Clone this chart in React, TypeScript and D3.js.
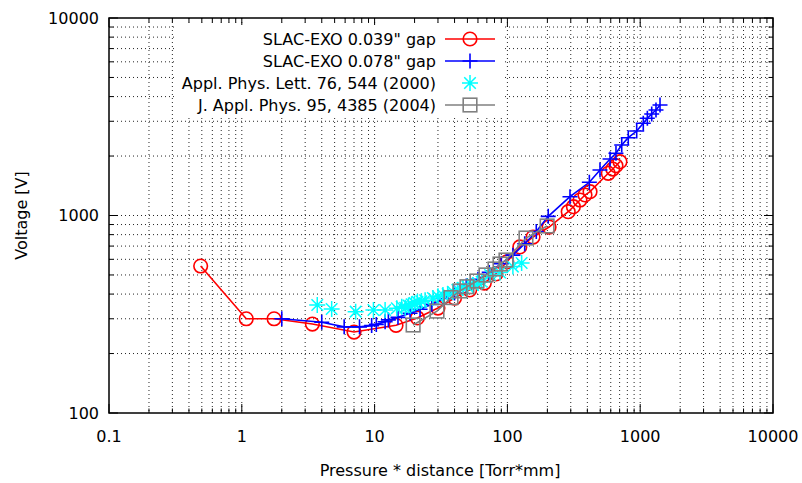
import React from "react";
import * as d3 from "d3";

const W = 802;
const H = 483;

const redX = [0.49, 1.08, 1.75, 3.4, 7.0, 14.5, 21, 30, 40, 52, 67, 82, 99, 124, 156, 206, 287, 314, 352, 384, 419, 575, 621, 657, 704];
const redY = [555, 300, 300, 282, 257, 278, 303, 340, 382, 420, 455, 506, 582, 693, 778, 874, 1045, 1108, 1198, 1270, 1320, 1636, 1719, 1787, 1873];

const blueX = [2.0, 4.0, 5.9, 7.7, 9.5, 10.3, 12.0, 12.7, 15, 18.5, 22, 27, 33, 40, 49, 60, 73, 90, 110, 135, 165, 203, 296, 414, 498, 593, 657, 726, 813, 941, 1055, 1132, 1221, 1315, 1410];
const blueY = [300, 288, 273, 273, 277, 281, 290, 296, 305, 320, 335, 355, 380, 405, 440, 475, 515, 570, 630, 720, 830, 990, 1245, 1473, 1700, 1932, 2065, 2275, 2477, 2678, 2930, 3106, 3266, 3422, 3626];

const cyanX = [3.7, 4.75, 7.2, 9.8, 12, 14.7, 16, 17, 18, 19, 20, 21, 22.5, 24, 27.5, 30, 32.7, 35.5, 38.9, 42, 46.3, 50, 55, 60, 64, 74, 88, 110, 128];
const cyanY = [352, 336, 326, 332, 332, 339, 345, 341, 350, 355, 360, 366, 368, 372, 382, 390, 396, 400, 411, 420, 430, 437, 445, 455, 462, 500, 515, 551, 575];

const grayX = [19.5, 29.5, 37.6, 44, 49.6, 59, 69, 80.7, 88, 97.6, 138, 199];
const grayY = [279, 328, 384, 415, 436, 466, 500, 536, 568, 595, 769, 885];

const xMajor = [0.1, 1, 10, 100, 1000, 10000];
const xMajorLabels = ["0.1", "1", "10", "100", "1000", "10000"];
const yMajor = [100, 1000, 10000];
const yMajorLabels = ["100", "1000", "10000"];

const legendLabels = [
  "SLAC-EXO 0.039\" gap",
  "SLAC-EXO 0.078\" gap",
  "Appl. Phys. Lett. 76, 544 (2000)",
  "J. Appl. Phys. 95, 4385 (2004)",
];

const RED = "#ff0000";
const BLUE = "#0000ff";
const CYAN = "#00ffff";
const GRAY = "#808080";
const FONT = "'DejaVu Sans', Verdana, sans-serif";
const FS = 16;

const L = 109, R = 773, T = 18, B = 413;

const x = d3.scaleLog().domain([0.1, 10000]).range([L, R]);
const y = d3.scaleLog().domain([100, 10000]).range([B, T]);

function minorTicks(dec0: number, dec1: number) {
  const out: number[] = [];
  for (let k = dec0; k < dec1; k++) {
    for (let m = 2; m <= 9; m++) out.push(m * Math.pow(10, k));
  }
  return out;
}
const xMinor = minorTicks(-1, 4);
const yMinor = minorTicks(2, 4);

function Circle({ cx, cy }: { cx: number; cy: number }) {
  return <circle cx={cx} cy={cy} r={6.8} fill="none" stroke={RED} strokeWidth={1.6} />;
}
function Plus({ cx, cy }: { cx: number; cy: number }) {
  const s = 7.5;
  return <path d={`M${cx - s},${cy}H${cx + s}M${cx},${cy - s}V${cy + s}`} stroke={BLUE} strokeWidth={1.6} fill="none" />;
}
function Star({ cx, cy }: { cx: number; cy: number }) {
  const s = 8;
  const d = s * 0.72;
  return (
    <path
      d={`M${cx - s},${cy}H${cx + s}M${cx},${cy - s}V${cy + s}M${cx - d},${cy - d}L${cx + d},${cy + d}M${cx - d},${cy + d}L${cx + d},${cy - d}`}
      stroke={CYAN}
      strokeWidth={1.5}
      fill="none"
    />
  );
}
function Square({ cx, cy }: { cx: number; cy: number }) {
  const s = 6.8;
  return <rect x={cx - s} y={cy - s} width={2 * s} height={2 * s} fill="none" stroke={GRAY} strokeWidth={1.6} />;
}

export default function App() {
  const line = d3
    .line<[number, number]>()
    .x((d) => x(d[0]))
    .y((d) => y(d[1]));
  const red = redX.map((v, i) => [v, redY[i]] as [number, number]);
  const blue = blueX.map((v, i) => [v, blueY[i]] as [number, number]);
  const cyan = cyanX.map((v, i) => [v, cyanY[i]] as [number, number]);
  const gray = grayX.map((v, i) => [v, grayY[i]] as [number, number]);

  const gridStyle = { stroke: "#000", strokeWidth: 1, strokeDasharray: "1,3", opacity: 0.85 };
  const legendRows = [39, 61, 83, 105];
  const lx0 = 445, lx1 = 495, lmx = 470, ltx = 436;

  return (
    <svg width={W} height={H} style={{ position: "absolute", left: 0, top: 0, background: "#fff" }}>
      <rect x={0} y={0} width={W} height={H} fill="#fff" />
      {/* grid */}
      <g>
        {[...xMinor, ...xMajor.slice(1, -1)].map((v, i) => (
          <line key={"gx" + i} x1={x(v)} x2={x(v)} y1={T} y2={B} {...gridStyle} />
        ))}
        {[...yMinor, ...yMajor.slice(1, -1)].map((v, i) => (
          <line key={"gy" + i} x1={L} x2={R} y1={y(v)} y2={y(v)} {...gridStyle} />
        ))}
      </g>
      {/* ticks */}
      <g stroke="#000" strokeWidth={1}>
        {xMajor.map((v, i) => (
          <g key={"xt" + i}>
            <line x1={x(v)} x2={x(v)} y1={B} y2={B - 9} />
            <line x1={x(v)} x2={x(v)} y1={T} y2={T + 9} />
          </g>
        ))}
        {xMinor.map((v, i) => (
          <g key={"xm" + i}>
            <line x1={x(v)} x2={x(v)} y1={B} y2={B - 4.5} />
            <line x1={x(v)} x2={x(v)} y1={T} y2={T + 4.5} />
          </g>
        ))}
        {yMajor.map((v, i) => (
          <g key={"yt" + i}>
            <line x1={L} x2={L + 9} y1={y(v)} y2={y(v)} />
            <line x1={R} x2={R - 9} y1={y(v)} y2={y(v)} />
          </g>
        ))}
        {yMinor.map((v, i) => (
          <g key={"ym" + i}>
            <line x1={L} x2={L + 4.5} y1={y(v)} y2={y(v)} />
            <line x1={R} x2={R - 4.5} y1={y(v)} y2={y(v)} />
          </g>
        ))}
      </g>
      {/* tick labels */}
      <g fontFamily={FONT} fontSize={FS} fill="#000">
        {xMajor.map((v, i) => (
          <text key={"xl" + i} x={x(v)} y={442} textAnchor="middle">
            {xMajorLabels[i]}
          </text>
        ))}
        {yMajor.map((v, i) => (
          <text key={"yl" + i} x={99} y={y(v)} textAnchor="end" dominantBaseline="central">
            {yMajorLabels[i]}
          </text>
        ))}
        <text x={440} y={476} textAnchor="middle">
          Pressure * distance [Torr*mm]
        </text>
        <text transform={`translate(27,${(T + B) / 2}) rotate(-90)`} textAnchor="middle">
          Voltage [V]
        </text>
      </g>
      {/* series */}
      <g>
        <path d={line(red) || ""} fill="none" stroke={RED} strokeWidth={1.6} />
        {red.map((d, i) => (
          <Circle key={"r" + i} cx={x(d[0])} cy={y(d[1])} />
        ))}
        <path d={line(blue) || ""} fill="none" stroke={BLUE} strokeWidth={1.6} />
        {blue.map((d, i) => (
          <Plus key={"b" + i} cx={x(d[0])} cy={y(d[1])} />
        ))}
        {cyan.map((d, i) => (
          <Star key={"c" + i} cx={x(d[0])} cy={y(d[1])} />
        ))}
        <path d={line(gray) || ""} fill="none" stroke={GRAY} strokeWidth={1.6} />
        {gray.map((d, i) => (
          <Square key={"g" + i} cx={x(d[0])} cy={y(d[1])} />
        ))}
      </g>
      {/* legend */}
      <g>
        <rect x={176} y={25} width={327} height={92} fill="#fff" />
        <g fontFamily={FONT} fontSize={FS} fill="#000">
          {legendLabels.map((t, i) => (
            <text key={"lt" + i} x={ltx} y={legendRows[i]} textAnchor="end" dominantBaseline="central">
              {t}
            </text>
          ))}
        </g>
        <line x1={lx0} x2={lx1} y1={legendRows[0]} y2={legendRows[0]} stroke={RED} strokeWidth={1.6} />
        <Circle cx={lmx} cy={legendRows[0]} />
        <line x1={lx0} x2={lx1} y1={legendRows[1]} y2={legendRows[1]} stroke={BLUE} strokeWidth={1.6} />
        <Plus cx={lmx} cy={legendRows[1]} />
        <Star cx={lmx} cy={legendRows[2]} />
        <line x1={lx0} x2={lx1} y1={legendRows[3]} y2={legendRows[3]} stroke={GRAY} strokeWidth={1.6} />
        <Square cx={lmx} cy={legendRows[3]} />
      </g>
      {/* border */}
      <rect x={L} y={T} width={R - L} height={B - T} fill="none" stroke="#000" strokeWidth={1.5} />
    </svg>
  );
}
